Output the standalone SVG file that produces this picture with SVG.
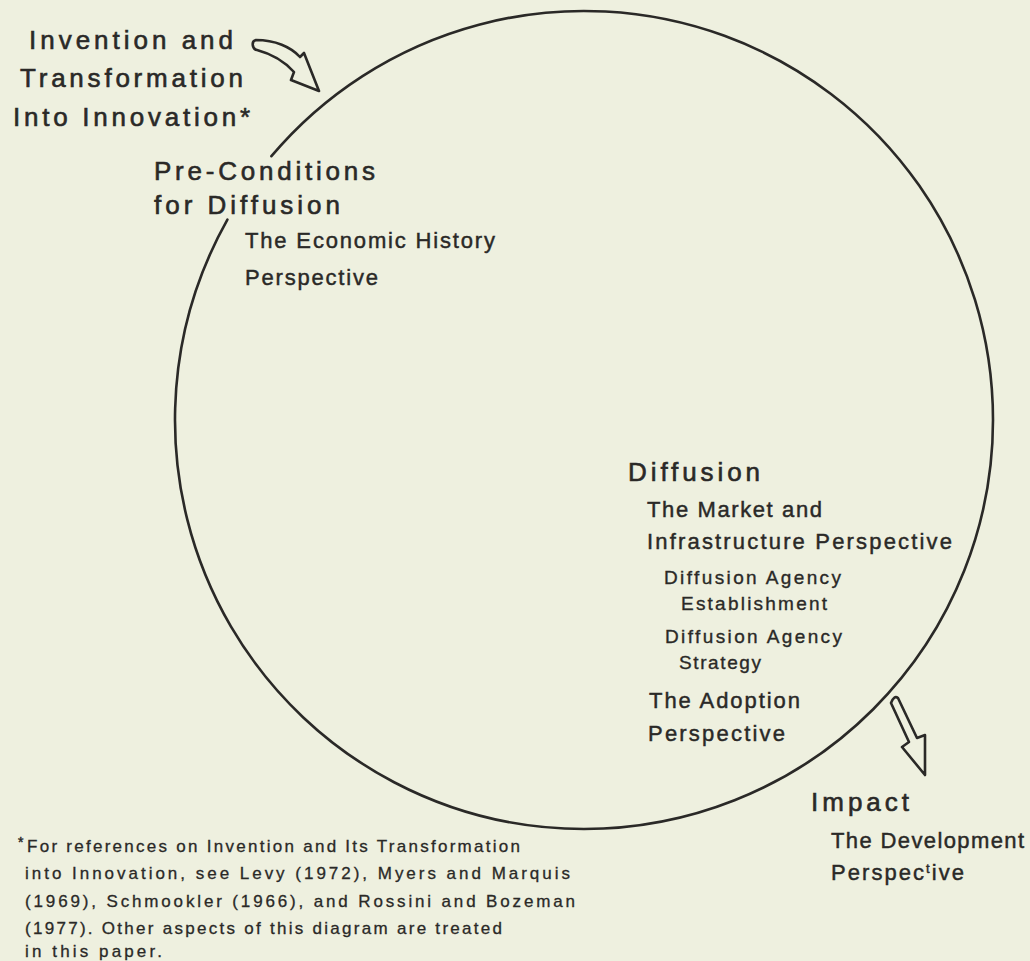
<svg xmlns="http://www.w3.org/2000/svg" width="1030" height="961" viewBox="0 0 1030 961">
  <style>
    text { font-family: "Liberation Sans", Arial, sans-serif; fill: #2a2927; stroke: #2a2927; stroke-width: 0.45; }
    .big { font-size: 26px; stroke-width: 0.6; }
    .med { font-size: 22px; }
    .sml { font-size: 19px; stroke-width: 0.35; }
    .note { font-size: 17px; stroke-width: 0.3; }
    .line { fill: none; stroke: #2a2927; stroke-width: 2.6; stroke-linecap: round; }
    .arrow { fill: none; stroke: #2a2927; stroke-width: 2.6; stroke-linejoin: round; }
  </style>
  <rect x="0" y="0" width="1030" height="961" fill="#eef0df"/>

  <g id="connectors">
    <path id="cycle" class="line" d="M 227.4 219.7 A 409 409 0 0 0 584 829 A 409 409 0 0 0 993 420 A 409 409 0 0 0 271.4 156.2"/>
    <path id="arrow-in" class="arrow" d="M 256 40 C 275 40 291 47 300 57 L 304 53 L 319 91 L 291 80 L 294 72 C 285 62 272 54 257 50 C 252 49 251 41 256 40 Z"/>
    <path id="arrow-out" class="arrow" d="M 891 703 L 909 742 L 902 747 L 925 775 L 925 735 L 917 738 L 898 698 Q 894 695 891 703 Z"/>
  </g>

  <g id="invention">
    <text class="big" x="29" y="49" textLength="204" lengthAdjust="spacing">Invention and</text>
    <text class="big" x="20" y="87" textLength="223" lengthAdjust="spacing">Transformation</text>
    <text class="big" x="13" y="126" textLength="237" lengthAdjust="spacing">Into Innovation*</text>
  </g>

  <g id="preconditions">
    <text class="big" x="154" y="180" textLength="221" lengthAdjust="spacing">Pre-Conditions</text>
    <text class="big" x="154" y="214" textLength="186" lengthAdjust="spacing">for Diffusion</text>
    <text class="med" x="245" y="248" textLength="250" lengthAdjust="spacing">The Economic History</text>
    <text class="med" x="245" y="285" textLength="133" lengthAdjust="spacing">Perspective</text>
  </g>

  <g id="diffusion">
    <text class="big" x="628" y="481" textLength="132" lengthAdjust="spacing">Diffusion</text>
    <text class="med" x="647" y="517" textLength="175" lengthAdjust="spacing">The Market and</text>
    <text class="med" x="647" y="549" textLength="305" lengthAdjust="spacing">Infrastructure Perspective</text>
    <text class="sml" x="664" y="584" textLength="177" lengthAdjust="spacing">Diffusion Agency</text>
    <text class="sml" x="681" y="610" textLength="146" lengthAdjust="spacing">Establishment</text>
    <text class="sml" x="665" y="643" textLength="177" lengthAdjust="spacing">Diffusion Agency</text>
    <text class="sml" x="679" y="669" textLength="82" lengthAdjust="spacing">Strategy</text>
    <text class="med" x="649" y="708" textLength="151" lengthAdjust="spacing">The Adoption</text>
    <text class="med" x="648" y="741" textLength="137" lengthAdjust="spacing">Perspective</text>
  </g>

  <g id="impact">
    <text class="big" x="811" y="811" textLength="98" lengthAdjust="spacing">Impact</text>
    <text class="med" x="831" y="848" textLength="193" lengthAdjust="spacing">The Development</text>
    <text class="med" x="831" y="880" textLength="133" lengthAdjust="spacing">Perspec<tspan font-size="13" dy="-7">t</tspan><tspan dy="7">ive</tspan></text>
  </g>

  <g id="footnote">
    <text x="18" y="847" font-size="14">*</text>
    <text class="note" x="27" y="852" textLength="493" lengthAdjust="spacing">For references on Invention and Its Transformation</text>
    <text class="note" x="25" y="879" textLength="545" lengthAdjust="spacing">into Innovation, see Levy (1972), Myers and Marquis</text>
    <text class="note" x="25" y="907" textLength="550" lengthAdjust="spacing">(1969), Schmookler (1966), and Rossini and Bozeman</text>
    <text class="note" x="25" y="934" textLength="477" lengthAdjust="spacing">(1977).  Other aspects of this diagram are treated</text>
    <text class="note" x="25" y="957" textLength="137" lengthAdjust="spacing">in this paper.</text>
  </g>
</svg>
